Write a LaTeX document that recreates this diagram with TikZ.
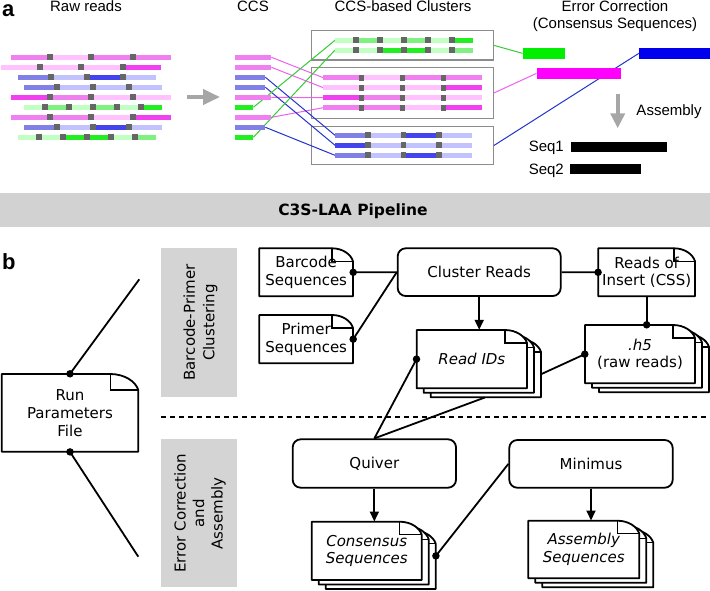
\documentclass[tikz,border=0pt]{standalone}
\usepackage{fontspec}
\newfontfamily\fa{Liberation Sans}
\newfontfamily\fb{DejaVu Sans}
\usetikzlibrary{arrows.meta}
\definecolor{rdMP}{HTML}{F080F0}
\definecolor{rdLP}{HTML}{FFC2FF}
\definecolor{rdBM}{HTML}{F040F0}
\definecolor{rdMB}{HTML}{8080E6}
\definecolor{rdLB}{HTML}{C2C2FF}
\definecolor{rdSB}{HTML}{4444EE}
\definecolor{rdLG}{HTML}{C2FFC2}
\definecolor{rdMG}{HTML}{80F080}
\definecolor{rdBG}{HTML}{22EE22}
\definecolor{rdGrey}{HTML}{666666}
\definecolor{boxGrey}{HTML}{8C8C8C}
\definecolor{lnPink}{HTML}{EE60EE}
\definecolor{lnBlue}{HTML}{2233CC}
\definecolor{lnGreen}{HTML}{33CC33}
\definecolor{csGreen}{HTML}{00EE00}
\definecolor{csMag}{HTML}{FF00FF}
\definecolor{csBlue}{HTML}{0000EE}
\definecolor{arrGrey}{HTML}{A6A6A6}
\definecolor{bannerGrey}{HTML}{D2D2D2}
\definecolor{lblGrey}{HTML}{D4D4D4}
\tikzset{
  lbl/.style={font=\fa\fontsize{15}{18}\selectfont, inner sep=0},
  dtext/.style={font=\fb\fontsize{15}{17.7}\selectfont, align=center, inner sep=0},
  ditext/.style={font=\fb\itshape\fontsize{15}{17.7}\selectfont, align=center, inner sep=0},
  docline/.style={line width=1.8pt, line join=round},
  flapline/.style={line width=1.2pt},
  conn/.style={line width=1.8pt},
  arr/.style={conn, -{Triangle[length=10pt,width=9pt]}},
  dot/.style={circle, fill=black, inner sep=0, minimum size=7.5pt},
  rbox/.style={draw, fill=white, line width=1.8pt, rounded corners=8pt, inner sep=0,
    font=\fb\fontsize{15}{17.7}\selectfont},
  bar/.style={rectangle, inner sep=0, minimum height=5, anchor=west, draw=none},
  cbox/.style={draw=boxGrey, line width=1.2pt, inner sep=0},
  consbar/.style={rectangle, inner sep=0, minimum height=11.3, draw=none},
  seqbar/.style={rectangle, inner sep=0, minimum height=10, fill=black, draw=none},
  garr/.style={arrGrey, line width=4pt, -{Triangle[length=17pt,width=15pt]}},
  thinline/.style={line width=1pt},
  panel/.style={font=\fa\bfseries\fontsize{22}{22}\selectfont, anchor=base west, inner sep=0}
}
% read row: #1 y, #2 x0, #3 seg width, #4 grey width, #5 colours, #6 name
\newcommand\rdrow[6]{%
  \coordinate (#6) at (#2,#1);
  \foreach \rc [count=\ri from 0] in {#5}{%
    \fill[\rc] ({#2+\ri*(#3+#4)},{#1-2.5}) rectangle ++(#3,5);
    \ifnum\ri>0 \fill[rdGrey] ({#2+\ri*(#3+#4)-#4},{#1-3}) rectangle ++(#4,6);\fi
  }}
% document shape: #1 left #2 top #3 right #4 bottom #5 fold w #6 fold h
\newcommand\docshape[6]{%
  \filldraw[docline, fill=white] ({#1},{#2}) -- ({#3-#5},{#2})
    .. controls ({#3-#5*0.5},{#2}) and ({#3-#5*0.1},{#2+#6*0.45}) .. ({#3},{#2+#6})
    -- ({#3},{#4}) -- ({#1},{#4}) -- cycle;
  \draw[flapline] ({#3-#5},{#2}) -- ({#3-#5},{#2+#6}) -- ({#3},{#2+#6});
}
\newcommand\stackdoc[4]{%
  \docshape{#1+14}{#2+9}{#3+14}{#4+9}{22}{13}%
  \docshape{#1+7}{#2+4.5}{#3+7}{#4+4.5}{22}{13}%
  \docshape{#1}{#2}{#3}{#4}{22}{13}}
\begin{document}
\begin{tikzpicture}[x=1pt,y=-1pt]
\useasboundingbox (0,0) rectangle (710,590);

% ---------------- panel a ----------------
\node[panel] (la) at (2,16.5) {a};
\node[lbl, anchor=base] (t1) at (86,11.5) {Raw reads};
\node[lbl, anchor=base] (t2) at (253,11.5) {CCS};
\node[lbl, anchor=base] (t3) at (403,11.5) {CCS-based Clusters};
\node[lbl, anchor=base] (t4) at (615,11.5) {Error Correction};
\node[lbl, anchor=base] (t5) at (615,28.5) {(Consensus Sequences)};

% raw reads
\rdrow{57.3}{11}{35.5}{6}{rdMP,rdLP,rdMP,rdMP}{r1}
\rdrow{67.3}{1}{35.5}{6}{rdLP,rdLP,rdLP,rdBM}{r2}
\rdrow{77.3}{18}{30}{6}{rdMB,rdLB,rdSB,rdLB}{r3}
\rdrow{87.3}{24}{30}{6}{rdMB,rdLB,rdLB,rdLB}{r4}
\rdrow{97.3}{11}{35.5}{6}{rdBM,rdMP,rdLP,rdLP}{r5}
\rdrow{107.3}{24}{18}{6}{rdLG,rdMG,rdLG,rdMG,rdLG,rdBG}{r6}
\rdrow{117.3}{11}{35.5}{6}{rdMP,rdMP,rdLP,rdBM}{r7}
\rdrow{127.3}{24}{30}{6}{rdMB,rdLB,rdSB,rdLB}{r8}
\rdrow{137.3}{18}{18}{6}{rdLG,rdLG,rdBG,rdBG,rdLG,rdMG}{r9}

% grey arrow
\coordinate (ga1) at (187,97);
\coordinate (ga2) at (220,97);
\draw[garr] (ga1) -- (ga2);

% cluster boxes
\node[cbox, minimum width=181.6, minimum height=29.3] (k1) at (402.5,45.35) {};
\node[cbox, minimum width=181.6, minimum height=50.6] (k2) at (402.5,93) {};
\node[cbox, minimum width=181.6, minimum height=37.6] (k3) at (402.5,145.5) {};

% CCS bars (nodes)
\node[bar, minimum width=36] (s1) at (235,57.3) {};
\node[bar, minimum width=36] (s2) at (235,67.3) {};
\node[bar, minimum width=30] (s3) at (235,77.3) {};
\node[bar, minimum width=30] (s4) at (235,87.3) {};
\node[bar, minimum width=36] (s5) at (235,97.3) {};
\node[bar, minimum width=18] (s6) at (235,107.3) {};
\node[bar, minimum width=36] (s7) at (235,117.3) {};
\node[bar, minimum width=30] (s8) at (235,127.3) {};
\node[bar, minimum width=18] (s9) at (235,137.3) {};

\coordinate (G1) at (335,40.3);
\coordinate (G2) at (335,50);
\coordinate (P1) at (323.3,77.7);
\coordinate (P2) at (323.3,87.7);
\coordinate (P3) at (323.3,97.7);
\coordinate (P4) at (323.3,107.7);
\coordinate (B1) at (335,135.3);
\coordinate (B2) at (335,145.3);
\coordinate (B3) at (335,155.3);

% consensus bars
\node[consbar, minimum width=41.6] (cgb) at (543.5,53.35) {};
\node[consbar, minimum width=84] (cmb) at (578.7,73.35) {};
\node[consbar, minimum width=71] (cbb) at (674.5,53.35) {};

% connecting lines
\draw[lnPink, thinline] (s1.east) -- (P1);
\draw[lnPink, thinline] (s2.east) -- (P2);
\draw[lnPink, thinline] (s5.east) -- (P3);
\draw[lnPink, thinline] (s7.east) -- (P4);
\draw[lnBlue, thinline] (s3.east) -- (B1);
\draw[lnBlue, thinline] (s4.east) -- (B2);
\draw[lnBlue, thinline] (s8.east) -- (B3);
\draw[lnGreen, thinline] (s6.east) -- (G1);
\draw[lnGreen, thinline] (s9.east) -- (G2);
\draw[lnGreen, thinline] (k1.east) -- (cgb.west);
\draw[lnPink, thinline] (k2.east) -- (cmb.west);
\draw[lnBlue, thinline] (k3.east) -- (cbb.west);

% fill CCS bars
\fill[rdMP] (s1.south west) rectangle (s1.north east);
\fill[rdMP] (s2.south west) rectangle (s2.north east);
\fill[rdMB] (s3.south west) rectangle (s3.north east);
\fill[rdMB] (s4.south west) rectangle (s4.north east);
\fill[rdMP] (s5.south west) rectangle (s5.north east);
\fill[rdBG] (s6.south west) rectangle (s6.north east);
\fill[rdMP] (s7.south west) rectangle (s7.north east);
\fill[rdMB] (s8.south west) rectangle (s8.north east);
\fill[rdBG] (s9.south west) rectangle (s9.north east);

% cluster reads
\rdrow{40.3}{335}{18}{6}{rdLG,rdMG,rdLG,rdMG,rdLG,rdBG}{g1}
\rdrow{50}{335}{18}{6}{rdLG,rdLG,rdBG,rdBG,rdLG,rdMG}{g2}
\rdrow{77.7}{323.3}{35.7}{5.3}{rdMP,rdLP,rdMP,rdMP}{p1}
\rdrow{87.7}{323.3}{35.7}{5.3}{rdLP,rdLP,rdLP,rdBM}{p2}
\rdrow{97.7}{323.3}{35.7}{5.3}{rdBM,rdMP,rdLP,rdLP}{p3}
\rdrow{107.7}{323.3}{35.7}{5.3}{rdMP,rdMP,rdLP,rdBM}{p4}
\rdrow{135.3}{335}{30}{5.5}{rdMB,rdLB,rdSB,rdLB}{b1}
\rdrow{145.3}{335}{30}{5.5}{rdSB,rdLB,rdLB,rdLB}{b2}
\rdrow{155.3}{335}{30}{5.5}{rdMB,rdLB,rdSB,rdLB}{b3}

\fill[csGreen] (cgb.south west) rectangle (cgb.north east);
\fill[csMag] (cmb.south west) rectangle (cmb.north east);
\fill[csBlue] (cbb.south west) rectangle (cbb.north east);

% assembly
\coordinate (da1) at (617.7,94.3);
\coordinate (da2) at (617.7,128.3);
\draw[garr, -{Triangle[length=15pt,width=14pt]}] (da1) -- (da2);
\node[lbl, anchor=base] (asl) at (669,115.5) {Assembly};
\node[seqbar, minimum width=96] (sq1) at (618.7,146.7) {};
\node[seqbar, minimum width=70.7] (sq2) at (605.35,169.15) {};
\node[lbl, anchor=base east] (sl1) at (564,151.8) {Seq1};
\node[lbl, anchor=base east] (sl2) at (564,174.8) {Seq2};

% ---------------- banner ----------------
\fill[bannerGrey] (0,193.3) rectangle (710,226.7);
\node[font=\fb\bfseries\fontsize{15.5}{18}\selectfont, inner sep=0] (ban) at (353,211) {C3S-LAA Pipeline};

% ---------------- panel b ----------------
\node[panel] (lbb) at (2,269) {b};

\fill[lblGrey] (161,248.3) rectangle (237.3,396.7);
\fill[lblGrey] (161,439.3) rectangle (237.3,587.3);
\node[dtext, font=\fb\fontsize{15}{19.5}\selectfont, rotate=90] (lab1) at (200.5,322.5) {Barcode-Primer\\Clustering};
\node[dtext, font=\fb\fontsize{15}{18.5}\selectfont, rotate=90] (lab2) at (200,513.3) {Error Correction\\and\\Assembly};

\coordinate (dl1) at (161,417.3);
\coordinate (dl2) at (710,417.3);
\draw[line width=1.8pt, dash pattern=on 4.5pt off 4.5pt] (dl1) -- (dl2);

% documents
\docshape{1.7}{374}{138.3}{451.7}{28}{16}
\node[dtext, font=\fb\fontsize{15}{18}\selectfont, minimum width=136.6, minimum height=77.7] (rp) at (70,412.85) {Run\\Parameters\\File};
\docshape{259.3}{248.3}{353}{296.3}{21}{13}
\node[dtext, minimum width=93.7, minimum height=48] (bc) at (306.15,272.3) {Barcode\\Sequences};
\docshape{259.3}{315}{353}{363.3}{21}{13}
\node[dtext, minimum width=93.7, minimum height=48.3] (pr) at (306.15,339.15) {Primer\\Sequences};
\docshape{598.3}{248.3}{695}{296.3}{21}{13}
\node[dtext, minimum width=96.7, minimum height=48] (ri) at (646.65,272.3) {Reads of\\Insert (CSS)};

\stackdoc{416.7}{330}{527}{388.3}
\node[ditext, minimum width=110.3, minimum height=58.3] (rid) at (471.85,359.15) {Read IDs};
\stackdoc{585}{325}{695}{383.3}
\node[dtext, minimum width=110, minimum height=58.3] (h5) at (640,354.15) {\textit{.h5}\\(raw reads)};
\stackdoc{311.7}{521.7}{421.7}{580}
\node[ditext, minimum width=110, minimum height=58.3] (cs) at (366.7,550.85) {Consensus\\Sequences};
\stackdoc{528.3}{520.7}{639.3}{578.3}
\node[ditext, minimum width=111, minimum height=57.6] (as) at (583.8,549.5) {Assembly\\Sequences};

% process boxes
\node[rbox, minimum width=163, minimum height=47.7] (cr) at (479.2,272.15) {Cluster Reads};
\node[rbox, minimum width=163.3, minimum height=48.4] (qv) at (374.35,463.5) {Quiver};
\node[rbox, minimum width=163.4, minimum height=47.7] (mn) at (591,463.85) {Minimus};

% connectors
\coordinate (rpt) at (139.3,279.3);
\coordinate (rpb) at (138.3,556.7);
\draw[conn] (rp.north) -- (rpt);
\draw[conn] (rp.south) -- (rpb);
\draw[conn] (bc.east) -- (cr.west);
\draw[conn] (pr.east) -- (cr.west);
\draw[conn] (cr.east) -- (ri.west);
\draw[arr] (cr.south) -- (cr.south |- rid.north);
\coordinate (h5top) at (ri.south |- h5.north);
\draw[conn] (ri.south) -- (h5top);
\coordinate (ridr) at ([xshift=14pt,yshift=-15pt]rid.east);
\draw[conn] (ridr) -- (h5.west);
\coordinate (ridb) at ([xshift=13pt,yshift=-9pt]rid.south);
\draw[conn] (rid.west) -- (qv.north);
\draw[conn] (ridb) -- (qv.north);
\draw[arr] (qv.south) -- (qv.south |- cs.north);
\draw[arr] (mn.south) -- (mn.south |- as.north);
\coordinate (csr) at ([xshift=14pt,yshift=-5pt]cs.east);
\draw[conn] (csr) -- (mn.west);

% dots
\node[dot] at (rp.north) {};
\node[dot] at (rp.south) {};
\node[dot] at (bc.east) {};
\node[dot] at (pr.east) {};
\node[dot] at (ri.west) {};
\node[dot] at (h5top) {};
\node[dot] at (h5.west) {};
\node[dot] at (rid.west) {};
\node[dot] at (csr) {};
\end{tikzpicture}
\end{document}
